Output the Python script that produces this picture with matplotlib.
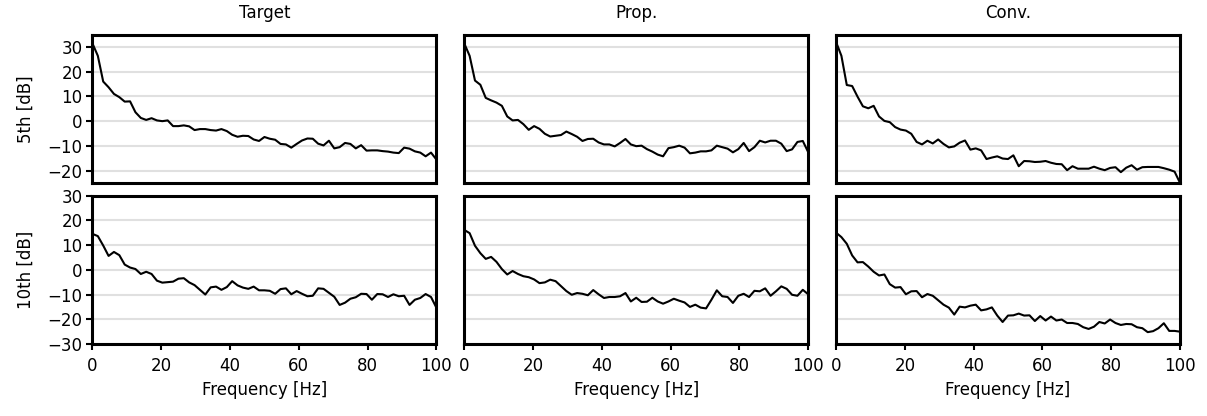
import matplotlib.pyplot as plt
import numpy as np

plt.rcParams['font.family'] = ['DejaVu Sans']
plt.rcParams['font.size'] = 12
plt.rcParams['axes.unicode_minus'] = True

# frequency bins (65 points, 0-100 Hz)
freq = np.linspace(0, 100, 65)

col_titles = ['Target', 'Prop.', 'Conv.']
row_labels = ['5th [dB]', '10th [dB]']

target_5th = [31.4, 26.4, 16.0, 13.7, 11.0, 9.7, 7.9, 8.0, 3.6, 1.3, 0.5, 1.2, 0.3, 0.0, 0.3,
              -2.0, -2.0, -1.7, -2.1, -3.6, -3.2, -3.2, -3.6, -3.8, -3.2, -4.0, -5.5, -6.3,
              -5.9, -6.0, -7.4, -8.0, -6.4, -7.1, -7.5, -9.2, -9.4, -10.7, -9.2, -7.8, -7.0,
              -7.1, -9.1, -9.8, -7.9, -11.0, -10.5, -8.8, -9.2, -11.0, -9.7, -11.9, -11.8,
              -11.8, -12.1, -12.3, -12.7, -12.9, -10.7, -11.1, -12.2, -12.7, -14.2, -12.7, -15.5]
target_10th = [14.5, 13.6, 9.8, 5.6, 7.2, 5.9, 2.1, 0.9, 0.3, -1.7, -0.8, -1.7, -4.4, -5.2, -5.0,
               -4.8, -3.6, -3.4, -5.1, -6.2, -8.1, -10.0, -7.1, -6.8, -8.1, -7.0, -4.6, -6.3,
               -7.2, -7.7, -6.8, -8.3, -8.3, -8.5, -9.7, -7.8, -7.5, -9.9, -8.6, -9.7, -10.7,
               -10.5, -7.5, -7.7, -9.3, -10.9, -14.2, -13.3, -11.7, -11.1, -9.7, -9.8, -12.1,
               -9.8, -9.9, -11.0, -9.9, -10.7, -10.5, -14.2, -12.1, -11.4, -9.8, -11.0, -15.3]
prop_5th = [31.4, 26.4, 16.4, 14.7, 9.4, 8.4, 7.5, 6.2, 1.9, 0.3, 0.5, -1.2, -3.5, -2.0, -3.1,
            -5.1, -6.2, -5.9, -5.6, -4.2, -5.2, -6.3, -8.0, -7.2, -7.1, -8.6, -9.4, -9.4,
            -10.2, -8.8, -7.2, -9.4, -10.1, -9.9, -11.3, -12.3, -13.5, -14.2, -10.9, -10.5,
            -9.9, -10.7, -13.0, -12.7, -12.2, -12.2, -11.8, -9.9, -10.5, -11.1, -12.6, -11.3,
            -8.8, -12.1, -10.5, -7.9, -8.6, -7.9, -7.9, -9.1, -12.1, -11.4, -8.4, -8.0, -12.5]
prop_10th = [16.1, 14.8, 9.7, 6.7, 4.4, 5.2, 3.2, 0.3, -1.9, -0.5, -1.7, -2.6, -3.0, -3.9, -5.4,
             -5.1, -4.0, -4.6, -6.6, -8.6, -10.1, -9.4, -9.7, -10.3, -8.2, -9.9, -11.4, -11.0,
             -11.0, -10.7, -9.4, -12.8, -11.3, -13.0, -12.9, -11.3, -12.8, -13.7, -12.8, -11.7,
             -12.5, -13.2, -15.0, -14.1, -15.3, -15.6, -12.1, -8.3, -10.7, -11.0, -13.4, -10.5,
             -9.7, -11.0, -8.5, -8.7, -7.5, -10.5, -8.7, -6.7, -7.7, -10.1, -10.5, -8.1, -9.9]
conv_5th = [32.0, 26.4, 14.6, 14.2, 9.9, 6.0, 5.2, 6.2, 1.9, 0.1, -0.4, -2.4, -3.4, -3.8, -5.1,
            -8.4, -9.4, -7.9, -9.0, -7.4, -9.2, -10.6, -10.2, -8.7, -7.8, -11.5, -11.0, -11.8,
            -15.3, -14.7, -14.2, -15.1, -15.3, -13.8, -18.2, -16.1, -16.2, -16.5, -16.4, -16.1,
            -16.8, -17.3, -17.4, -19.8, -18.2, -19.2, -19.2, -19.2, -18.4, -19.2, -19.8, -18.9,
            -18.6, -20.6, -18.8, -17.8, -19.6, -18.6, -18.5, -18.5, -18.5, -19.0, -19.6, -20.4, -24.9]
conv_10th = [15.0, 13.2, 10.5, 5.8, 3.0, 3.1, 1.3, -0.8, -2.3, -1.9, -5.8, -7.2, -7.0, -9.9, -8.7,
             -8.6, -11.1, -9.8, -10.5, -12.3, -14.1, -15.3, -18.1, -14.9, -15.2, -14.5, -14.1,
             -16.4, -16.0, -15.2, -18.5, -21.1, -18.5, -18.4, -17.7, -18.5, -18.4, -20.7, -18.7,
             -20.5, -18.9, -20.5, -20.1, -21.5, -21.5, -21.9, -23.2, -23.9, -23.0, -21.1, -21.7,
             -20.1, -21.5, -22.3, -21.9, -22.0, -23.2, -23.6, -25.2, -24.8, -23.6, -21.6, -24.7,
             -24.7, -25.0]

data = [[target_5th, prop_5th, conv_5th],
        [target_10th, prop_10th, conv_10th]]
ylims = [(-25, 35), (-30, 30)]
yticks = [np.arange(-20, 31, 10), np.arange(-30, 31, 10)]

fig, axs = plt.subplots(2, 3, figsize=(12.07, 4.16), dpi=100)
plt.subplots_adjust(left=0.0766, right=0.9776, top=0.917, bottom=0.173,
                    wspace=0.081, hspace=0.084)

for r in range(2):
    for c in range(3):
        ax = axs[r, c]
        ax.plot(freq, data[r][c], color='black', lw=1.5, zorder=3)
        ax.set_xlim(0, 100)
        ax.set_ylim(*ylims[r])
        ax.set_yticks(yticks[r])
        ax.set_xticks(np.arange(0, 101, 20))
        ax.grid(axis='y', color='#e0e0e0', lw=1.5)
        ax.set_axisbelow(True)
        for s in ax.spines.values():
            s.set_linewidth(2.2)
        ax.tick_params(width=1.5, length=4, pad=3, labelsize=12)
        ax.tick_params(axis='x', pad=5)
        if r == 0:
            ax.set_title(col_titles[c], fontsize=12, pad=12)
            ax.tick_params(axis='x', bottom=False, labelbottom=False)
        else:
            ax.set_xlabel('Frequency [Hz]', fontsize=12, labelpad=5)
        if c == 0:
            ax.set_ylabel(row_labels[r], fontsize=12, labelpad=9)
        else:
            ax.tick_params(axis='y', left=False, labelleft=False)

plt.savefig('out.png', dpi=100)
plt.close()
